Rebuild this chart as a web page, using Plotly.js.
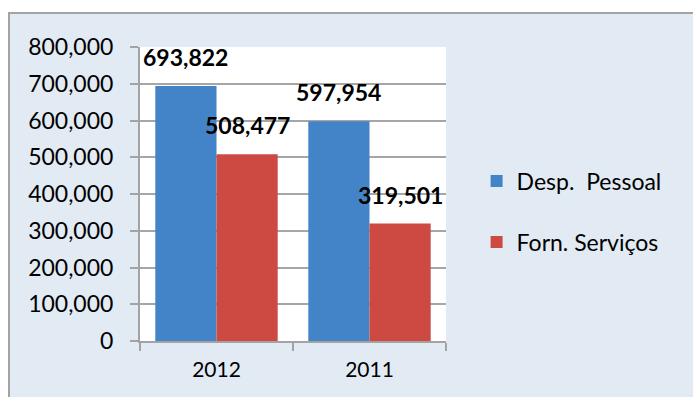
<!DOCTYPE html>
<html>
<head>
<meta charset="utf-8">
<script src="https://cdn.plot.ly/plotly-3.0.1.min.js"></script>
<style>
  html, body { margin: 0; padding: 0; background: #ffffff; }
  #wrap { position: absolute; left: 8px; top: 12px; width: 685px; height: 385px;
          border-left: 2px solid #a3a3a3; border-top: 2px solid #a3a3a3; box-sizing: border-box; }
  #chart { width: 683px; height: 383px; }
</style>
</head>
<body>
<div id="wrap"><div id="chart"></div></div>
<script>
const categories = ["2012", "2011"];
const seriesNames = ["Desp.\u00a0\u00a0Pessoal", "Forn. Serviços"];
const despPessoal = [693822, 597954];
const fornServicos = [508477, 319501];
const seriesValues = [despPessoal, fornServicos];
const seriesColors = ["#4383c8", "#cc4a41"];
const labelShift = [-31, 31];

const traces = seriesValues.map((vals, i) => ({
  type: "bar",
  name: seriesNames[i],
  x: categories,
  y: vals,
  legendgroup: "g" + i,
  marker: { color: seriesColors[i], line: { width: 0 } },
  hoverinfo: "skip"
}));

const annotations = [];
seriesValues.forEach((vals, i) => {
  vals.forEach((v, j) => {
    annotations.push({
      x: j, y: v, xref: "x", yref: "y",
      text: v.toLocaleString("en-US"),
      showarrow: false, xanchor: "center", yanchor: "middle",
      xshift: labelShift[i], yshift: 29,
      font: { family: "Lato, sans-serif", size: 23, color: "#000", weight: "bold" }
    });
  });
});

const layout = {
  width: 683, height: 383,
  margin: { l: 130, r: 247, t: 33, b: 56 },
  paper_bgcolor: "#e2eaf4",
  plot_bgcolor: "#ffffff",
  barmode: "group",
  bargap: 0.2,
  bargroupgap: 0,
  font: { family: "Lato, sans-serif", size: 21, color: "#000" },
  xaxis: {
    type: "category",
    categoryorder: "array",
    categoryarray: categories,
    range: [-0.5, categories.length - 0.5],
    tickson: "boundaries",
    ticks: "outside", ticklen: 8, tickwidth: 2, tickcolor: "#a3a3a3",
    showline: true, linecolor: "#a3a3a3", linewidth: 2,
    ticklabelstandoff: 9,
    tickfont: { size: 21 },
    fixedrange: true
  },
  yaxis: {
    range: [0, 800000],
    dtick: 100000,
    tickformat: ",d",
    ticks: "outside", ticklen: 8, tickwidth: 2, tickcolor: "#a3a3a3",
    showline: true, linecolor: "#a3a3a3", linewidth: 2,
    showgrid: true, gridcolor: "#a6a6a6", gridwidth: 2,
    zeroline: false,
    ticklabelstandoff: 12,
    tickfont: { size: 23 },
    fixedrange: true
  },
  legend: {
    x: 1.1, xanchor: "left", y: 0.44, yanchor: "middle",
    bgcolor: "rgba(0,0,0,0)",
    traceorder: "grouped",
    tracegroupgap: 28,
    font: { size: 23 }
  },
  annotations: annotations,
  showlegend: true
};

Plotly.newPlot("chart", traces, layout, { displayModeBar: false, staticPlot: true });
</script>
</body>
</html>
